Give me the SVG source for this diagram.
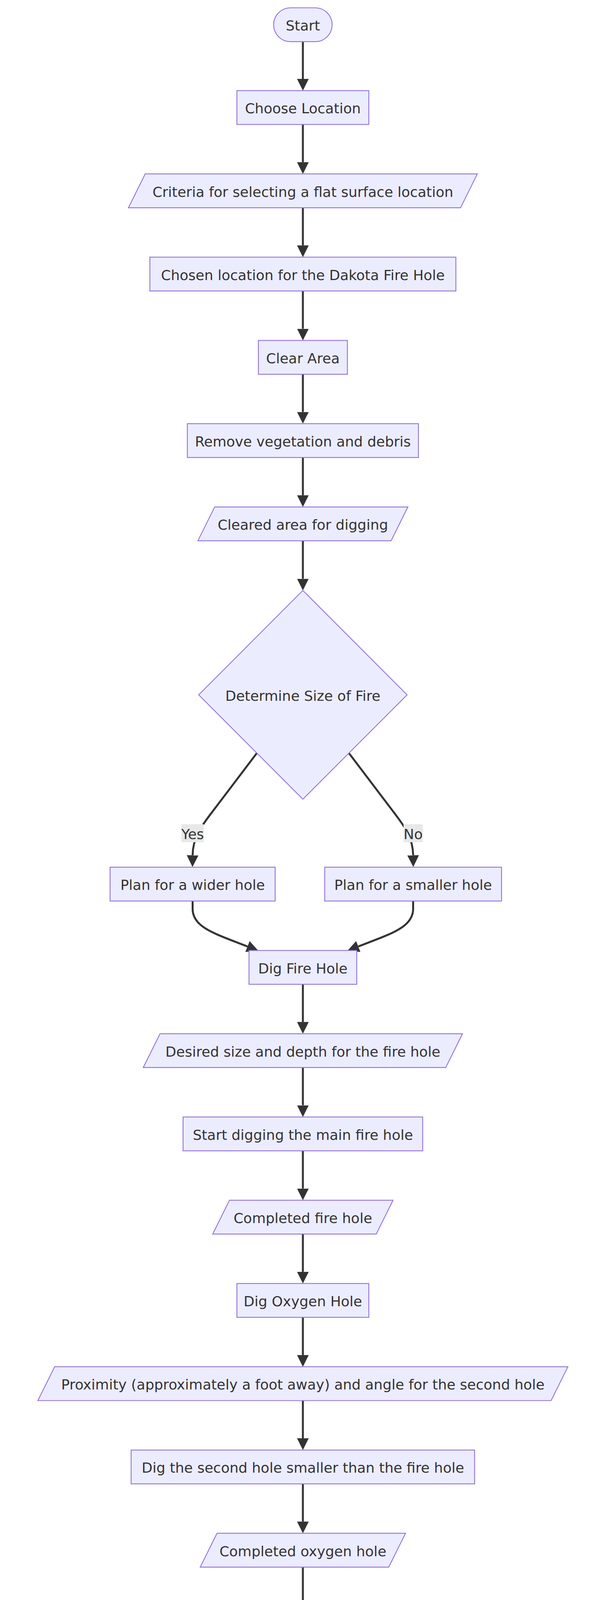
<svg xmlns="http://www.w3.org/2000/svg" width="1568" height="6228" viewBox="0 0 1568 6228">
<style>
.node rect, .node polygon { fill: #ECECFF; stroke: #9370DB; stroke-width: 2.2; }
.node text, .elabel text { font-family: "DejaVu Sans", "Liberation Sans", sans-serif; font-size: 36px; fill: #333333; text-anchor: middle; }
.edge { fill: none; stroke: #333333; stroke-width: 5; marker-end: url(#arrow); }
.elabel rect { fill: #e8e8e8; }
</style>
<defs>
<marker id="arrow" viewBox="0 0 10 10" refX="0" refY="5" markerUnits="userSpaceOnUse" markerWidth="30" markerHeight="30" orient="auto">
<path d="M0,0 L10,5 L0,10 z" fill="#333333"/>
</marker>
</defs>
<rect x="0" y="0" width="1568" height="6228" fill="#ffffff"/>
<g id="connectors">
<path class="edge" d="M776,106.6 V202"/>
<path class="edge" d="M776,318.6 V415.2"/>
<path class="edge" d="M776,531.8 V628.3"/>
<path class="edge" d="M776,744.9 V841.5"/>
<path class="edge" d="M776,958.1 V1054.6"/>
<path class="edge" d="M776,1171.2 V1267.8"/>
<path class="edge" d="M776,1384.4 V1481.5"/>
<path class="edge" d="M658,1928 L548,2073 C520,2110 494,2140 493.5,2189.5"/>
<path class="edge" d="M894,1928 L1004,2073 C1032,2110 1058,2140 1058.5,2189.5"/>
<path class="edge" d="M493.5,2306.6 L493.5,2327 C493.5,2375 554,2391.5 634,2423"/>
<path class="edge" d="M1058.5,2306.6 L1058.5,2327 C1058.5,2375 998,2391.5 918,2423"/>
<path class="edge" d="M776,2519.8 V2616.3"/>
<path class="edge" d="M776,2732.9 V2829.5"/>
<path class="edge" d="M776,2946.1 V3042.6"/>
<path class="edge" d="M776,3159.2 V3255.8"/>
<path class="edge" d="M776,3372.4 V3468.9"/>
<path class="edge" d="M776,3585.5 V3682.1"/>
<path class="edge" d="M776,3798.7 V3895.2"/>
<path class="edge" d="M776,4011.8 V4108.4"/>
<path class="edge" d="M776,4225 V4321.5"/>
<path class="edge" d="M776,4438.1 V4534.7"/>
<path class="edge" d="M776,4651.3 V4747.8"/>
<path class="edge" d="M776,4864.4 V4961"/>
<path class="edge" d="M776,5077.6 V5174.1"/>
<path class="edge" d="M776,5290.7 V5387.3"/>
<path class="edge" d="M776,5503.9 V5600.4"/>
<path class="edge" d="M776,5717 V5813.6"/>
<path class="edge" d="M776,5930.2 V6026.7"/>
<g class="elabel" id="label-yes"><rect x="465" y="2110" width="57" height="46"/><text x="493.5" y="2147.5">Yes</text></g>
<g class="elabel" id="label-no"><rect x="1034" y="2110" width="49" height="46"/><text x="1058.5" y="2147.5">No</text></g>
</g>
<g id="start" class="node"><rect x="701" y="20" width="150" height="86.6" rx="43.3" ry="43.3"/><text x="776" y="78.3">Start</text></g>
<g id="choose-location" class="node"><rect x="607" y="232" width="338" height="86.6"/><text x="776" y="290.3">Choose Location</text></g>
<g id="criteria" class="node"><polygon points="372,445.2 1223,445.2 1180,531.8 329,531.8"/><text x="776" y="503.5">Criteria for selecting a flat surface location</text></g>
<g id="chosen-location" class="node"><rect x="384" y="658.3" width="784" height="86.6"/><text x="776" y="716.6">Chosen location for the Dakota Fire Hole</text></g>
<g id="clear-area" class="node"><rect x="662" y="871.5" width="228" height="86.6"/><text x="776" y="929.8">Clear Area</text></g>
<g id="remove-vegetation" class="node"><rect x="480" y="1084.6" width="592" height="86.6"/><text x="776" y="1142.9">Remove vegetation and debris</text></g>
<g id="cleared-area" class="node"><polygon points="550,1297.8 1045,1297.8 1002,1384.4 507,1384.4"/><text x="776" y="1356.1">Cleared area for digging</text></g>
<g id="determine-size" class="node"><polygon points="776,1511.5 1043,1778.8 776,2046 509,1778.8"/><text x="776" y="1793.8">Determine Size of Fire</text></g>
<g id="plan-wider" class="node"><rect x="282" y="2220" width="423" height="86.6"/><text x="493.5" y="2278.3">Plan for a wider hole</text></g>
<g id="plan-smaller" class="node"><rect x="832" y="2220" width="453" height="86.6"/><text x="1058.5" y="2278.3">Plan for a smaller hole</text></g>
<g id="dig-fire-hole" class="node"><rect x="638" y="2433.2" width="276" height="86.6"/><text x="776" y="2491.5">Dig Fire Hole</text></g>
<g id="desired-size" class="node"><polygon points="410,2646.3 1185,2646.3 1142,2732.9 367,2732.9"/><text x="776" y="2704.6">Desired size and depth for the fire hole</text></g>
<g id="start-digging" class="node"><rect x="469" y="2859.5" width="614" height="86.6"/><text x="776" y="2917.8">Start digging the main fire hole</text></g>
<g id="completed-fire-hole" class="node"><polygon points="588,3072.6 1007,3072.6 964,3159.2 545,3159.2"/><text x="776" y="3130.9">Completed fire hole</text></g>
<g id="dig-oxygen-hole" class="node"><rect x="607" y="3285.8" width="338" height="86.6"/><text x="776" y="3344.1">Dig Oxygen Hole</text></g>
<g id="proximity" class="node"><polygon points="140,3498.9 1455,3498.9 1412,3585.5 97,3585.5"/><text x="776" y="3557.2">Proximity (approximately a foot away) and angle for the second hole</text></g>
<g id="dig-second-hole" class="node"><rect x="336" y="3712.1" width="880" height="86.6"/><text x="776" y="3770.4">Dig the second hole smaller than the fire hole</text></g>
<g id="completed-oxygen-hole" class="node"><polygon points="556,3925.2 1039,3925.2 996,4011.8 513,4011.8"/><text x="776" y="3983.5">Completed oxygen hole</text></g>
<g id="connect-two-holes" class="node"><rect x="585" y="4138.4" width="382" height="86.6"/><text x="776" y="4196.7">Connect Two Holes</text></g>
<g id="position" class="node"><polygon points="498,4351.5 1097,4351.5 1054,4438.1 455,4438.1"/><text x="776" y="4409.8">Position for digging (kneeling)</text></g>
<g id="dig-tunnel" class="node"><rect x="247" y="4564.7" width="1058" height="86.6"/><text x="776" y="4623">Dig a connection tunnel approximately the size of a fist</text></g>
<g id="connection-tunnel" class="node"><polygon points="279,4777.8 1316,4777.8 1273,4864.4 236,4864.4"/><text x="776" y="4836.1">Connection tunnel between fire hole and oxygen hole</text></g>
<g id="start-fire" class="node"><rect x="670" y="4991" width="212" height="86.6"/><text x="776" y="5049.3">Start Fire</text></g>
<g id="dry-materials" class="node"><polygon points="531,5204.1 1064,5204.1 1021,5290.7 488,5290.7"/><text x="776" y="5262.4">Dry materials and kindling</text></g>
<g id="build-fire" class="node"><rect x="283" y="5417.3" width="986" height="86.6"/><text x="776" y="5475.6">Build the fire using standard fire-building principles</text></g>
<g id="lit-fire-hole" class="node"><polygon points="588,5630.4 1007,5630.4 964,5717 545,5717"/><text x="776" y="5688.7">Lit Dakota Fire Hole</text></g>
<g id="enjoy" class="node"><rect x="20" y="5843.6" width="1512" height="86.6"/><text x="776" y="5901.9">Enjoy the heat and the stealthy, wind-resistant qualities of the Dakota Fire Hole</text></g>
<g id="end" class="node"><rect x="713" y="6056.7" width="126" height="86.6" rx="43.3" ry="43.3"/><text x="776" y="6115">End</text></g>
</svg>
